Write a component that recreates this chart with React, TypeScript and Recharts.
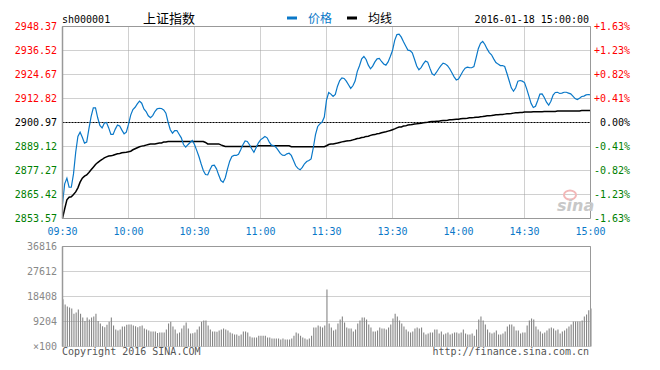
import React from "react";
import {
  ComposedChart,
  Line,
  Bar,
  XAxis,
  YAxis,
  CartesianGrid,
  ReferenceLine,
} from "recharts";

// 上证指数 分时 2016-01-18
const timeLabels = ["09:30", "10:00", "10:30", "11:00", "11:30", "13:30", "14:00", "14:30", "15:00"];

const prevClose = 2900.97;
const priceTicks = [2853.57, 2865.42, 2877.27, 2889.12, 2900.97, 2912.82, 2924.67, 2936.52, 2948.37];
const pctLabels = ["-1.63%", "-1.23%", "-0.82%", "-0.41%", "0.00%", "+0.41%", "+0.82%", "+1.23%", "+1.63%"];
const volTicks = [0, 9204, 18408, 27612, 36816];
const volLabels = ["×100", "9204", "18408", "27612", "36816"];

// 价格（每分钟）
const price = [
  2860.8, 2870.7, 2873.5, 2869.0, 2869.0, 2875.6, 2886.3, 2894.1, 2896.2, 2893.7,
  2890.8, 2891.3, 2897.8, 2903.9, 2908.2, 2908.2, 2903.3, 2899.5, 2898.3, 2900.6,
  2901.0, 2898.3, 2895.1, 2895.1, 2897.7, 2899.7, 2899.3, 2897.2, 2895.4, 2896.2,
  2900.0, 2904.6, 2907.4, 2908.5, 2910.2, 2911.5, 2910.5, 2907.7, 2906.4, 2904.3,
  2903.3, 2904.4, 2906.4, 2907.7, 2908.0, 2907.9, 2907.2, 2905.6, 2901.1, 2897.4,
  2895.7, 2897.0, 2897.0, 2895.2, 2893.4, 2890.1, 2888.8, 2890.0, 2891.1, 2892.1,
  2890.1, 2887.2, 2884.2, 2880.6, 2877.3, 2875.3, 2875.1, 2877.6, 2879.7, 2879.9,
  2878.1, 2875.0, 2872.3, 2871.4, 2873.7, 2878.1, 2881.9, 2884.2, 2884.7, 2884.7,
  2885.3, 2887.5, 2890.0, 2891.9, 2891.6, 2890.0, 2888.0, 2886.3, 2888.5, 2890.8,
  2892.4, 2893.2, 2894.1, 2893.4, 2891.3, 2889.8, 2889.6, 2888.8, 2887.3, 2885.7,
  2884.8, 2884.7, 2885.5, 2885.8, 2884.7, 2882.2, 2879.6, 2878.3, 2877.6, 2878.8,
  2880.6, 2881.7, 2882.2, 2883.0, 2888.5, 2895.0, 2899.0, 2900.3, 2901.2, 2903.7,
  2912.0, 2915.8, 2915.0, 2913.8, 2914.8, 2918.9, 2921.7, 2923.0, 2922.7, 2921.4,
  2919.6, 2917.8, 2919.1, 2921.4, 2926.2, 2929.0, 2932.4, 2933.6, 2932.1, 2929.3,
  2927.5, 2928.8, 2930.9, 2932.4, 2932.6, 2931.1, 2929.9, 2929.3, 2930.9, 2933.6,
  2936.5, 2941.5, 2944.4, 2944.6, 2943.1, 2940.8, 2938.7, 2936.7, 2936.5, 2935.4,
  2932.2, 2928.9, 2927.0, 2928.1, 2929.9, 2931.3, 2930.8, 2927.8, 2925.0, 2924.3,
  2925.8, 2927.5, 2929.0, 2930.3, 2929.9, 2929.0, 2927.5, 2925.5, 2923.5, 2922.0,
  2922.4, 2924.3, 2926.3, 2927.8, 2928.3, 2928.1, 2928.0, 2928.6, 2932.9, 2937.4,
  2940.1, 2941.0, 2939.5, 2937.3, 2935.5, 2934.4, 2932.4, 2930.6, 2929.8, 2929.1,
  2929.1, 2928.6, 2925.3, 2921.7, 2918.1, 2916.4, 2918.1, 2921.4, 2921.7, 2921.4,
  2920.7, 2917.6, 2914.0, 2910.4, 2908.4, 2909.0, 2911.8, 2915.0, 2915.1, 2913.3,
  2911.0, 2909.5, 2911.5, 2914.5, 2915.8, 2915.9, 2915.3, 2915.5, 2915.9, 2915.9,
  2915.5, 2915.1, 2914.0, 2912.8, 2912.3, 2913.0, 2913.8, 2914.0, 2914.6, 2914.8,
  2914.6,
];

// 均线
const avgPrice = [
  2853.6, 2858.4, 2862.8, 2864.1, 2864.3, 2865.4, 2866.7, 2868.7, 2871.5, 2873.5,
  2874.5, 2875.1, 2876.3, 2877.6, 2878.9, 2880.2, 2881.2, 2882.0, 2882.7, 2883.5,
  2884.0, 2884.4, 2884.5, 2884.8, 2885.2, 2885.5, 2885.7, 2886.0, 2886.2, 2886.3,
  2886.5, 2886.8, 2887.5, 2888.0, 2888.5, 2889.0, 2889.3, 2889.5, 2889.8, 2890.1,
  2890.3, 2890.4, 2890.4, 2890.6, 2890.8, 2890.9, 2891.3, 2891.4, 2891.6, 2891.6,
  2891.6, 2891.6, 2891.6, 2891.6, 2891.6, 2891.6, 2891.6, 2891.6, 2891.6, 2891.6,
  2891.6, 2891.6, 2891.6, 2891.6, 2891.6, 2891.1, 2890.4, 2890.4, 2890.4, 2890.4,
  2890.4, 2890.4, 2889.9, 2889.5, 2889.1, 2889.1, 2889.1, 2889.1, 2889.1, 2889.1,
  2889.1, 2889.1, 2889.1, 2889.1, 2889.1, 2889.1, 2889.1, 2889.1, 2889.1, 2889.5,
  2889.5, 2889.5, 2889.5, 2889.5, 2889.5, 2889.5, 2889.5, 2889.5, 2889.5, 2889.5,
  2889.5, 2889.5, 2889.5, 2889.5, 2889.0, 2889.0, 2889.0, 2889.0, 2889.0, 2889.0,
  2889.0, 2889.0, 2889.0, 2889.0, 2889.0, 2889.0, 2889.0, 2889.0, 2889.0, 2889.0,
  2889.5, 2890.1, 2890.3, 2890.4, 2890.6, 2890.8, 2891.1, 2891.4, 2891.6, 2891.8,
  2891.9, 2892.1, 2892.4, 2892.7, 2893.1, 2893.2, 2893.6, 2893.7, 2894.1, 2894.2,
  2894.6, 2894.9, 2895.0, 2895.4, 2895.5, 2895.9, 2896.2, 2896.4, 2896.7, 2897.0,
  2897.4, 2897.8, 2898.3, 2898.7, 2898.8, 2899.2, 2899.3, 2899.7, 2899.8, 2900.0,
  2900.2, 2900.3, 2900.5, 2900.6, 2900.8, 2901.0, 2901.1, 2901.3, 2901.5, 2901.5,
  2901.6, 2901.6, 2901.8, 2902.0, 2902.0, 2902.1, 2902.3, 2902.3, 2902.5, 2902.6,
  2902.6, 2902.8, 2903.0, 2903.0, 2903.1, 2903.3, 2903.3, 2903.4, 2903.6, 2903.6,
  2903.8, 2903.9, 2904.1, 2904.3, 2904.3, 2904.4, 2904.6, 2904.8, 2904.8, 2904.9,
  2904.9, 2905.1, 2905.3, 2905.3, 2905.4, 2905.6, 2905.8, 2905.8, 2905.9, 2905.9,
  2906.1, 2906.1, 2906.1, 2906.1, 2906.3, 2906.3, 2906.3, 2906.3, 2906.3, 2906.4,
  2906.4, 2906.4, 2906.4, 2906.4, 2906.4, 2906.6, 2906.6, 2906.6, 2906.6, 2906.6,
  2906.6, 2906.7, 2906.7, 2906.7, 2906.7, 2906.7, 2906.9, 2906.9, 2906.9, 2906.9,
  2906.9,
];

// 成交量（×100）
const volume = [
  17400, 15500, 14700, 14400, 14000, 12100, 12500, 13600, 12100, 10700,
  9400, 10700, 9900, 10700, 11000, 12100, 9400, 8500, 7500, 7100,
  8000, 9100, 10700, 7700, 6300, 5900, 6300, 7400, 7400, 8000,
  8100, 8100, 7700, 7500, 7100, 7500, 7700, 6600, 6300, 5900,
  5500, 5500, 5500, 5000, 5200, 5200, 5200, 6300, 8500, 9100,
  7400, 6300, 4800, 5200, 6600, 7700, 8800, 6600, 4800, 4900,
  5200, 6300, 7400, 9100, 9600, 9600, 7700, 6300, 5500, 5500,
  5400, 5900, 6300, 6600, 6300, 5900, 5200, 4800, 4400, 4400,
  4000, 4400, 5500, 5500, 5200, 3700, 3300, 3300, 3300, 4000,
  4000, 4000, 4000, 3300, 3300, 2900, 2900, 2900, 2900, 2600,
  2900, 2600, 2600, 2600, 2900, 4000, 5200, 4800, 4000, 3300,
  2900, 2600, 2900, 4000, 7000, 7000, 7700, 7400, 7000, 7700,
  21000, 8500, 7000, 5900, 6300, 8500, 9900, 11000, 8800, 7000,
  6600, 6600, 5500, 6300, 8500, 9600, 10700, 10700, 9900, 8100,
  7000, 5500, 5500, 5900, 7000, 6600, 6600, 6300, 7000, 8100,
  10300, 12100, 11000, 9600, 8500, 7400, 6300, 5500, 5200, 5500,
  6600, 7000, 6600, 7000, 5200, 4400, 4800, 5200, 5200, 6300,
  6300, 4800, 5500, 4400, 4800, 5200, 4400, 4800, 5200, 5200,
  4800, 5200, 6300, 4800, 4400, 4400, 4800, 4000, 6300, 9900,
  11000, 9600, 8100, 6300, 5200, 4800, 5200, 5900, 4400, 4400,
  4800, 5500, 7400, 8100, 8100, 7400, 5900, 5900, 4800, 5200,
  5200, 7700, 9600, 10300, 9900, 7400, 6300, 5500, 4800, 5200,
  5900, 6600, 7000, 6600, 5900, 6300, 4800, 5500, 5900, 6600,
  7400, 8100, 9200, 9200, 9200, 9200, 9600, 11000, 11800, 13300,
  14000,
];

const rows = price.map((p, i) => ({ t: i, price: p, avg: avgPrice[i], vol: volume[i] }));
const xTicks = timeLabels.map((_, k) => k * 30);

const MONO = "'DejaVu Sans Mono', 'Liberation Mono', monospace";
const CJK = "'Noto Sans CJK SC', sans-serif";
const BLUE = "#0a78c8";
const FRAME = "#999";
const GRID = "#a0a0a0";

function priceColor(v: number) {
  if (Math.abs(v - prevClose) < 0.001) return "#000";
  return v > prevClose ? "#ff0000" : "#008000";
}

function PriceTick(props: any) {
  const { y, payload } = props;
  return (
    <text x={57} y={y} dy={3.6} textAnchor="end" fontFamily={MONO} fontSize={10} fill={priceColor(payload.value)}>
      {payload.value.toFixed(2)}
    </text>
  );
}

function PctTick(props: any) {
  const { y, payload, index } = props;
  const i = priceTicks.indexOf(payload.value);
  const idx = i >= 0 ? i : index;
  return (
    <text x={630} y={y} dy={3.6} textAnchor="end" fontFamily={MONO} fontSize={10} fill={priceColor(payload.value)}>
      {pctLabels[idx]}
    </text>
  );
}

function TimeTick(props: any) {
  const { x, payload } = props;
  const k = xTicks.indexOf(payload.value);
  return (
    <text x={x} y={235} textAnchor="middle" fontFamily={MONO} fontSize={10} fill={BLUE}>
      {timeLabels[k]}
    </text>
  );
}

function VolTick(props: any) {
  const { y, payload } = props;
  const k = volTicks.indexOf(payload.value);
  return (
    <text x={57} y={y} dy={3.6} textAnchor="end" fontFamily={MONO} fontSize={10} fill="#888">
      {volLabels[k]}
    </text>
  );
}

export default function App() {
  const yDomain: [number, number] = [priceTicks[0], priceTicks[priceTicks.length - 1]];
  return (
    <div style={{ position: "absolute", left: 0, top: 0, width: 660, height: 370, background: "#fff" }}>
      {/* 分时 */}
      <div style={{ position: "absolute", left: 0, top: 0 }}>
        <ComposedChart width={660} height={240} data={rows} margin={{ top: 26.5, right: 0, bottom: 0, left: 0 }}>
          <CartesianGrid yAxisId="p" stroke={GRID} strokeDasharray="1 1" />
          <XAxis
            dataKey="t"
            type="number"
            domain={[0, 240]}
            ticks={xTicks}
            interval={0}
            height={21.5}
            axisLine={{ stroke: FRAME }}
            tickLine={false}
            tick={(p: any) => <TimeTick {...p} />}
          />
          <YAxis
            yAxisId="p"
            domain={yDomain}
            ticks={priceTicks}
            interval={0}
            allowDataOverflow
            width={62.5}
            axisLine={{ stroke: FRAME, strokeWidth: 1.5 }}
            tickLine={false}
            tick={(p: any) => <PriceTick {...p} />}
          />
          <YAxis
            yAxisId="pct"
            orientation="right"
            domain={yDomain}
            ticks={priceTicks}
            interval={0}
            allowDataOverflow
            width={69.5}
            axisLine={{ stroke: FRAME }}
            tickLine={false}
            tick={(p: any) => <PctTick {...p} />}
          />
          <ReferenceLine yAxisId="p" y={yDomain[1]} stroke={FRAME} />
          <ReferenceLine yAxisId="p" y={prevClose} stroke="#000" strokeDasharray="2 1" />
          <Line
            yAxisId="p"
            dataKey="avg"
            type="linear"
            stroke="#000"
            strokeWidth={1.5}
            dot={false}
            isAnimationActive={false}
          />
          <Line
            yAxisId="p"
            dataKey="price"
            type="linear"
            stroke={BLUE}
            strokeWidth={1.2}
            dot={false}
            isAnimationActive={false}
          />
        </ComposedChart>
      </div>

      {/* 成交量 */}
      <div style={{ position: "absolute", left: 0, top: 240 }}>
        <ComposedChart width={660} height={130} data={rows} margin={{ top: 6.5, right: 69.5, bottom: 23.5, left: 0 }}>
          <CartesianGrid stroke={GRID} strokeDasharray="1 1" />
          <XAxis
            dataKey="t"
            type="number"
            domain={[0, 240]}
            ticks={xTicks}
            interval={0}
            height={0}
            axisLine={{ stroke: FRAME }}
            tickLine={false}
            tick={false}
          />
          <YAxis
            domain={[0, volTicks[volTicks.length - 1]]}
            ticks={volTicks}
            interval={0}
            width={62.5}
            axisLine={{ stroke: FRAME, strokeWidth: 1.5 }}
            tickLine={false}
            tick={(p: any) => <VolTick {...p} />}
          />
          <ReferenceLine y={volTicks[volTicks.length - 1]} stroke={FRAME} />
          <ReferenceLine x={240} stroke={FRAME} />
          <Bar dataKey="vol" fill="#858585" barSize={1.1} isAnimationActive={false} />
        </ComposedChart>
      </div>

      {/* 标题、图例、版权 */}
      <svg width={660} height={370} style={{ position: "absolute", left: 0, top: 0, pointerEvents: "none" }}>
        <text x={62} y={22.5} fontFamily={MONO} fontSize={10} fill="#000">sh000001</text>
        <text x={143} y={23} fontFamily={CJK} fontSize={13} fill="#000">上证指数</text>
        <rect x={287} y={16.5} width={10} height={3} fill={BLUE} />
        <text x={308} y={23} fontFamily={CJK} fontSize={12} fill={BLUE}>价格</text>
        <rect x={347} y={16.5} width={10} height={3} fill="#000" />
        <text x={368} y={23} fontFamily={CJK} fontSize={12} fill="#000">均线</text>
        <text x={589} y={22.5} textAnchor="end" fontFamily={MONO} fontSize={10} fill="#000">2016-01-18 15:00:00</text>
        <ellipse cx={570} cy={195} rx={6} ry={4.5} fill="none" stroke="#f2b8b8" strokeWidth={2} />
        <text x={557} y={211} fontFamily="'DejaVu Sans', sans-serif" fontStyle="italic" fontWeight="bold" fontSize={16} fill="#c8c8c8">sina</text>
        <text x={62} y={355} fontFamily={MONO} fontSize={10} fill="#555">Copyright 2016 SINA.COM</text>
        <text x={589} y={355} textAnchor="end" fontFamily={MONO} fontSize={10} fill="#555">http://finance.sina.com.cn</text>
      </svg>
    </div>
  );
}
